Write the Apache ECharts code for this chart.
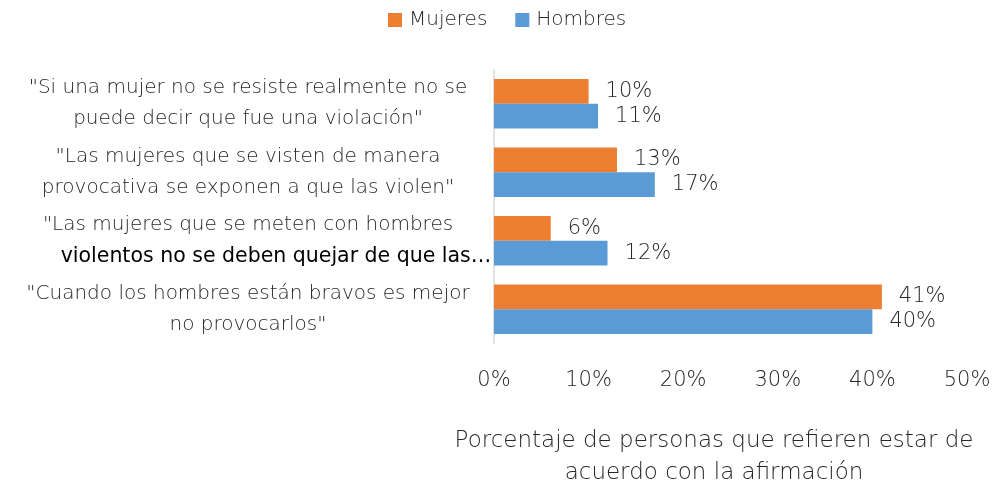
<!DOCTYPE html>
<html><head><meta charset="utf-8">
<script src="https://cdn.jsdelivr.net/npm/echarts@6/dist/echarts.min.js"></script>
<style>html,body{margin:0;padding:0;background:#fff}#c{width:993px;height:485px}</style>
</head><body><div id="c"></div>
<script>
const categories = [
  '"Si una mujer no se resiste realmente no se\npuede decir que fue una violación"',
  '"Las mujeres que se visten de manera\nprovocativa se exponen a que las violen"',
  '"Las mujeres que se meten con hombres\n{b|violentos no se deben quejar de que las…}',
  '"Cuando los hombres están bravos es mejor\nno provocarlos"'
];
const mujeres = [10, 13, 6, 41];
const hombres = [11, 17, 12, 40];
const xTicks = { min: 0, max: 50, interval: 10 };
const axisName = 'Porcentaje de personas que refieren estar de\nacuerdo con la afirmación';

const FONT = '"DejaVu Sans", sans-serif';
const W = 200;
const TXT = '#262626';
const chart = echarts.init(document.getElementById('c'));
const lbl = {
  show: true, position: 'right', distance: 17,
  formatter: p => p.value + '%',
  fontFamily: FONT, fontWeight: W, fontSize: 21, color: TXT
};
chart.setOption({
  animation: false,
  textStyle: { fontFamily: FONT },
  legend: {
    top: 5, left: 383, icon: 'rect', itemWidth: 14, itemHeight: 14, itemGap: 28,
    textStyle: { fontFamily: FONT, fontWeight: W, fontSize: 20, color: TXT, padding: [0, 0, 0, 2] },
    data: ['Mujeres', 'Hombres']
  },
  grid: { left: 494, right: 26, top: 69.5, bottom: 141.5, containLabel: false, outerBoundsMode: 'none' },
  xAxis: {
    type: 'value', min: xTicks.min, max: xTicks.max, interval: xTicks.interval,
    splitLine: { show: false }, axisLine: { show: false }, axisTick: { show: false },
    axisLabel: { formatter: v => v + '%', margin: 27, fontFamily: FONT, fontWeight: W, fontSize: 21, color: TXT },
    name: axisName, nameLocation: 'middle', nameGap: 82,
    nameTextStyle: { fontFamily: FONT, fontWeight: W, fontSize: 23, color: TXT, lineHeight: 32, padding: [0, 33, 0, 0] }
  },
  yAxis: {
    type: 'category', inverse: true, data: categories,
    axisLine: { show: true, lineStyle: { color: '#d9d9d9', width: 1.5 } },
    axisTick: { show: false },
    axisLabel: {
      margin: 246, align: 'center', fontFamily: FONT, fontWeight: W, fontSize: 20,
      lineHeight: 31, color: TXT,
      rich: { b: { fontFamily: FONT, fontWeight: 'normal', fontSize: 20.5, color: '#000', lineHeight: 31, padding: [0, 0, 0, 56] } }
    }
  },
  series: [
    { name: 'Mujeres', type: 'bar', data: mujeres, barGap: '0%', barCategoryGap: '28%',
      itemStyle: { color: '#ED7D31' }, label: lbl },
    { name: 'Hombres', type: 'bar', data: hombres, barGap: '0%', barCategoryGap: '28%',
      itemStyle: { color: '#5B9BD5' }, label: lbl }
  ]
});
</script></body></html>
